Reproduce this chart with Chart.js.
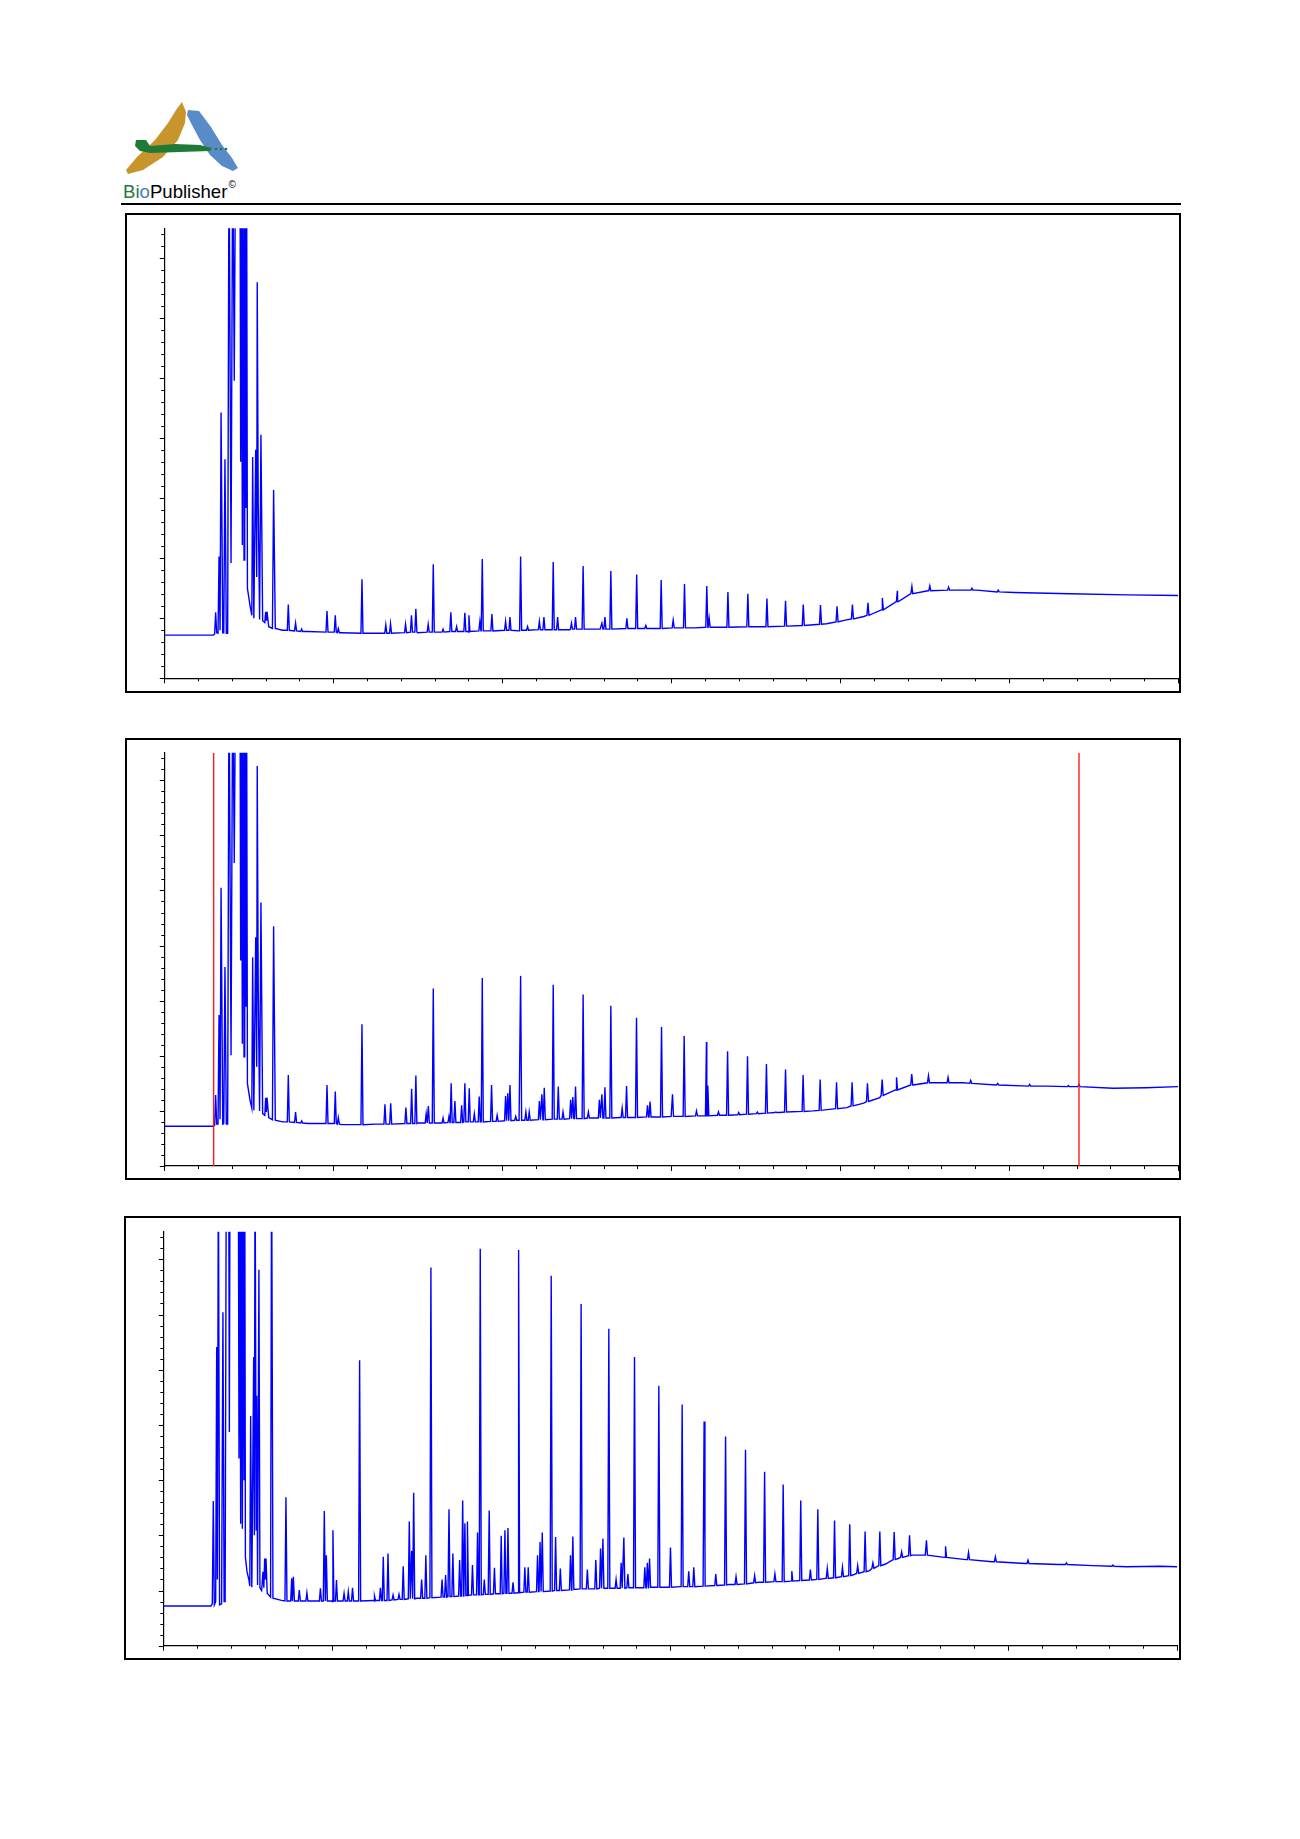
<!DOCTYPE html>
<html>
<head>
<meta charset="utf-8">
<title>Chromatograms</title>
<script src="https://cdn.jsdelivr.net/npm/chart.js@4.4.1/dist/chart.umd.min.js"></script>
<style>
    body { margin: 0; background: #fff; width: 1300px; height: 1839px; position: relative; overflow: hidden;
           font-family: "Liberation Sans", Arial, sans-serif; }
    .frame { position: absolute; border: 2px solid #000; box-sizing: border-box; }
    canvas { position: absolute; }
    #rule { position: absolute; left: 121px; top: 203px; width: 1060px; height: 2px; background: #000; }
    #brand { position: absolute; left: 123px; top: 177px; font-size: 18.6px; line-height: 22px; color: #000; white-space: nowrap; }
    #brand sup { font-size: 10px; position: relative; top: -3px; margin-left: 1px; }
</style>
</head>
<body>

<svg width="130" height="90" style="position:absolute;left:110px;top:95px" viewBox="110 95 130 90">
    <polygon fill="#c8952c" points="182,102 186,112 185,123 178,140 163,157 143,170 128,174 126,170 137,157 155,140 168,123 176,110"/>
    <polygon fill="#5a8bc9" points="188,110 199,111 211,127 222,145 232,158 238,168 233,171 222,166 210,155 200,140 192,125 187,115"/>
    <polygon fill="#1f7a36" points="136,140 146,140 150,146 175,144 200,145 212,148 210,151 180,152 150,153 140,151 135,146"/>
    <circle cx="216" cy="149" r="1.3" fill="#1f7a36"/>
    <circle cx="221" cy="149" r="1.3" fill="#1f7a36"/>
    <circle cx="226" cy="149" r="1.3" fill="#1f7a36"/>
</svg>
<div id="brand"><span style="color:#1f7a36">Bi</span><span style="color:#3f7fc4">o</span>Publisher<sup>©</sup></div>
<div id="rule"></div>

<div class="frame" style="left:125px;top:213px;width:1056px;height:480px"></div>
<div class="frame" style="left:125px;top:738px;width:1056px;height:442px"></div>
<div class="frame" style="left:124px;top:1216px;width:1057px;height:444px"></div>
<canvas id="chart1" width="1052" height="476" style="left:127px;top:215px"></canvas>
<canvas id="chart2" width="1052" height="438" style="left:127px;top:740px"></canvas>
<canvas id="chart3" width="1053" height="440" style="left:126px;top:1218px"></canvas>

<script>
// Retention time axis (min) and response axis
const X_MIN = 0, X_MAX = 60, X_MINOR = 2, X_MAJOR = 10;
const Y_MIN = 0, Y_MAX = 7.5, Y_MINOR = 0.2, Y_MAJOR = 1;

// ---- sample 1 ----
// baseline + the crowded solvent region, [time, response]; 9 = off scale
const trace1 = [
    [0, 0.72], [2.9, 0.72], [2.98, 0.74], [3.04, 1.10], [3.1, 0.76], [3.18, 0.75], [3.24, 2.03], [3.3, 0.8],
    [3.36, 4.43], [3.46, 0.76], [3.52, 0.76], [3.59, 3.65], [3.67, 0.75], [3.75, 0.75], [3.83, 9], [3.95, 1.92],
    [4.05, 9], [4.14, 4.96], [4.22, 9], [4.48, 9], [4.52, 3.61], [4.56, 9], [4.62, 2.22], [4.66, 9], [4.72, 1.97],
    [4.76, 9], [4.83, 2.84], [4.87, 9], [4.92, 1.5], [5.07, 1.22], [5.18, 1.05], [5.23, 3.69], [5.3, 1.0],
    [5.41, 3.81], [5.47, 1.69], [5.5, 6.6], [5.56, 2.89], [5.64, 0.98], [5.72, 4.06], [5.82, 0.96], [5.95, 0.93],
    [6.0, 1.11], [6.04, 0.96], [6.08, 1.11], [6.18, 0.86], [6.4, 0.83], [6.47, 3.14], [6.57, 0.83], [7.0, 0.8],
    [8.5, 0.78], [10.5, 0.76], [12.5, 0.75], [15, 0.76], [18, 0.77], [21, 0.79], [24, 0.81], [25.8, 0.82],
    [31.4, 0.84], [36.9, 0.87], [39.2, 0.91], [40.3, 0.97], [41.4, 1.03], [42.5, 1.14], [43.4, 1.28],
    [44.3, 1.41], [45.2, 1.46], [46.5, 1.47], [48.1, 1.47], [50.3, 1.43], [53.6, 1.41], [57, 1.39], [60, 1.38]
];
// single peaks, [time, apex, foot]
const peaks1 = [
    [7.34, 1.23, 0.80], [7.77, 0.92, 0.79], [8.13, 0.82, 0.78], [9.63, 1.12, 0.77], [10.12, 1.05, 0.77],
    [10.3, 0.83, 0.76], [11.70, 1.65, 0.75], [13.11, 0.89, 0.75], [13.39, 0.91, 0.75], [14.28, 0.90, 0.76],
    [14.63, 1.05, 0.77], [14.89, 1.16, 0.77], [15.62, 0.90, 0.77], [15.92, 1.90, 0.77], [16.5, 0.82, 0.77],
    [16.96, 1.10, 0.78], [17.3, 0.86, 0.78], [17.79, 1.09, 0.78], [18.03, 1.05, 0.78], [18.68, 0.95, 0.79],
    [18.82, 1.99, 0.79], [19.39, 1.07, 0.79], [20.2, 0.95, 0.80], [20.46, 1.02, 0.80], [21.09, 2.03, 0.80],
    [21.5, 0.86, 0.80], [22.2, 0.95, 0.81], [22.47, 1.02, 0.81], [23.02, 1.94, 0.81], [23.28, 1.02, 0.81],
    [24.1, 0.92, 0.82], [24.34, 1.02, 0.82], [24.79, 1.87, 0.82], [25.9, 0.92, 0.82], [26.08, 1.02, 0.82],
    [26.43, 1.79, 0.82], [27.38, 1.0, 0.83], [27.96, 1.73, 0.83], [28.5, 0.88, 0.83], [29.41, 1.64, 0.83],
    [30.12, 0.97, 0.84], [30.79, 1.57, 0.84], [32.11, 1.54, 0.85], [32.25, 1.0, 0.85], [33.36, 1.44, 0.85],
    [34.54, 1.41, 0.86], [35.67, 1.33, 0.86], [36.77, 1.29, 0.87], [37.82, 1.23, 0.88], [38.84, 1.22, 0.90],
    [39.82, 1.20, 0.94], [40.73, 1.23, 0.99], [41.65, 1.26, 1.05], [42.5, 1.34, 1.14], [43.39, 1.46, 1.28],
    [44.25, 1.53, 1.41], [45.31, 1.54, 1.46], [46.42, 1.52, 1.47], [47.8, 1.50, 1.47], [49.36, 1.47, 1.44]
];

// ---- sample 2 ----
const trace2 = [
    [0, 0.72], [2.9, 0.72], [2.98, 0.74], [3.04, 1.29], [3.1, 0.76], [3.18, 0.76], [3.24, 2.74], [3.3, 0.85],
    [3.36, 5.05], [3.46, 0.76], [3.52, 0.77], [3.59, 3.61], [3.67, 0.76], [3.75, 0.76], [3.83, 9], [3.95, 2.01],
    [4.05, 9], [4.14, 5.50], [4.22, 9], [4.48, 9], [4.52, 3.73], [4.56, 9], [4.62, 2.22], [4.66, 9], [4.72, 1.98],
    [4.76, 9], [4.83, 2.89], [4.87, 9], [4.92, 1.5], [5.07, 1.2], [5.18, 1.05], [5.23, 3.79], [5.3, 1.01],
    [5.41, 4.15], [5.47, 1.80], [5.5, 7.26], [5.56, 3.19], [5.64, 1.0], [5.72, 4.78], [5.82, 0.95], [5.95, 0.92],
    [6.0, 1.24], [6.04, 0.98], [6.08, 1.24], [6.18, 0.88], [6.4, 0.84], [6.47, 4.35], [6.57, 0.83], [7.0, 0.8],
    [8.5, 0.77], [10.5, 0.75], [12.5, 0.76], [15, 0.78], [18, 0.80], [21, 0.83], [24, 0.86], [27, 0.88],
    [30, 0.90], [33, 0.92], [36.4, 0.97], [38.4, 1.0], [40.4, 1.06], [41.4, 1.14], [42.35, 1.24], [43.34, 1.38],
    [44.32, 1.47], [45.3, 1.51], [47.3, 1.51], [49.25, 1.47], [52.2, 1.45], [54.2, 1.44], [56.15, 1.41],
    [58.1, 1.42], [60, 1.44]
];
const peaks2 = [
    [7.34, 1.65, 0.80], [7.77, 0.98, 0.79], [8.13, 0.82, 0.78], [9.63, 1.47, 0.77], [10.12, 1.35, 0.77],
    [10.3, 0.88, 0.76], [11.70, 2.57, 0.75], [13.06, 1.12, 0.76], [13.40, 1.14, 0.76], [14.30, 1.06, 0.77],
    [14.64, 1.40, 0.77], [14.89, 1.64, 0.77], [15.5, 0.95, 0.78], [15.63, 1.09, 0.78], [15.92, 3.22, 0.78],
    [16.5, 0.87, 0.78], [16.85, 0.9, 0.79], [16.98, 1.50, 0.79], [17.20, 1.18, 0.79], [17.6, 1.10, 0.79],
    [17.79, 1.50, 0.80], [18.05, 1.41, 0.80], [18.35, 0.95, 0.80], [18.64, 1.26, 0.80], [18.82, 3.41, 0.80],
    [19.37, 1.47, 0.81], [19.7, 0.92, 0.81], [20.2, 1.27, 0.82], [20.33, 1.32, 0.82], [20.46, 1.47, 0.82],
    [20.8, 0.9, 0.83], [21.09, 3.45, 0.83], [21.4, 0.98, 0.83], [21.6, 0.98, 0.83], [22.2, 1.18, 0.84],
    [22.35, 1.30, 0.84], [22.49, 1.42, 0.84], [23.02, 3.29, 0.85], [23.32, 1.44, 0.85], [23.6, 0.98, 0.85],
    [24.05, 1.2, 0.86], [24.18, 1.25, 0.86], [24.34, 1.44, 0.86], [24.79, 3.11, 0.86], [25.1, 0.98, 0.87],
    [25.75, 1.2, 0.87], [25.9, 1.3, 0.87], [26.08, 1.43, 0.87], [26.43, 2.91, 0.87], [27.1, 1.05, 0.88],
    [27.36, 1.45, 0.88], [27.95, 2.69, 0.88], [28.6, 1.1, 0.89], [28.75, 1.17, 0.89], [29.43, 2.52, 0.89],
    [30.08, 1.30, 0.90], [30.77, 2.36, 0.90], [31.5, 1.0, 0.91], [32.09, 2.25, 0.91], [32.17, 1.46, 0.91],
    [32.8, 0.98, 0.92], [33.34, 2.08, 0.92], [34.0, 0.97, 0.93], [34.52, 1.99, 0.94], [35.1, 0.98, 0.95],
    [35.64, 1.85, 0.96], [36.2, 0.98, 0.97], [36.77, 1.75, 0.98], [37.81, 1.65, 0.99], [38.82, 1.57, 1.01],
    [39.79, 1.52, 1.04], [40.71, 1.52, 1.09], [41.62, 1.50, 1.17], [42.49, 1.57, 1.28], [43.34, 1.61, 1.38],
    [44.24, 1.67, 1.47], [45.23, 1.64, 1.51], [46.39, 1.61, 1.51], [47.73, 1.55, 1.50], [49.33, 1.50, 1.47],
    [51.22, 1.48, 1.45], [53.51, 1.46, 1.44], [54.14, 1.48, 1.44]
];
// integration window markers on sample 2
const markers2 = [2.92, 54.14];

// ---- sample 3 ----
const trace3 = [
    [0, 0.72], [2.82, 0.72], [2.9, 0.76], [2.96, 2.62], [3.02, 0.74], [3.1, 0.8], [3.16, 5.41], [3.2, 1.2],
    [3.26, 9], [3.33, 0.74], [3.45, 0.76], [3.53, 6.04], [3.6, 0.8], [3.66, 0.8], [3.73, 9], [3.87, 9],
    [3.91, 3.87], [3.95, 9], [4.44, 9], [4.48, 3.39], [4.53, 9], [4.58, 2.21], [4.63, 9], [4.68, 2.12],
    [4.73, 9], [4.78, 3.01], [4.82, 9], [4.86, 1.6], [4.95, 1.35], [5.07, 1.19], [5.12, 1.08], [5.17, 4.16],
    [5.24, 1.06], [5.35, 5.23], [5.39, 2.0], [5.43, 9], [5.5, 2.1], [5.53, 4.53], [5.58, 1.1], [5.66, 6.81],
    [5.72, 1.05], [5.82, 1.0], [5.9, 1.34], [5.95, 1.05], [6.0, 1.58], [6.04, 1.2], [6.08, 1.58], [6.15, 0.95],
    [6.35, 0.88], [6.41, 9], [6.49, 0.86], [7.0, 0.82],
    [10, 0.80], [12.5, 0.81], [15, 0.86], [18, 0.91], [21, 0.96], [24.7, 1.03], [27.6, 1.05], [30.6, 1.07],
    [33.5, 1.11], [35.25, 1.15], [37.2, 1.18], [39.2, 1.22], [40.8, 1.28], [41.8, 1.36], [42.75, 1.48],
    [43.5, 1.58], [44.3, 1.64], [45.1, 1.64], [46.3, 1.60], [47.5, 1.56], [49.05, 1.52], [51, 1.49],
    [53, 1.47], [55, 1.45], [57, 1.43], [59, 1.44], [60, 1.43]
];
const peaks3 = [
    [7.26, 2.69, 0.81], [7.6, 1.22, 0.81], [7.7, 1.25, 0.81], [8.05, 1.01, 0.81], [8.5, 0.96, 0.81],
    [9.3, 1.04, 0.81], [9.53, 2.44, 0.81], [9.65, 1.64, 0.81], [10.04, 2.09, 0.81], [10.25, 1.19, 0.81],
    [10.7, 0.95, 0.81], [10.95, 0.98, 0.81], [11.2, 1.05, 0.81], [11.62, 5.17, 0.81], [12.5, 0.9, 0.82],
    [12.85, 1.05, 0.82], [13.02, 1.61, 0.82], [13.30, 1.67, 0.82], [13.6, 0.92, 0.83], [13.95, 0.93, 0.84],
    [14.2, 1.44, 0.84], [14.56, 2.25, 0.85], [14.70, 1.72, 0.85], [14.82, 2.77, 0.85], [15.29, 1.20, 0.86],
    [15.54, 1.64, 0.86], [15.84, 6.85, 0.87], [16.5, 1.2, 0.88], [16.71, 1.28, 0.88], [16.91, 2.47, 0.89],
    [17.14, 1.67, 0.89], [17.54, 1.55, 0.90], [17.72, 2.63, 0.90], [17.85, 2.22, 0.91], [18.0, 2.25, 0.91],
    [18.3, 1.46, 0.92], [18.6, 2.05, 0.92], [18.76, 7.19, 0.92], [19.0, 1.2, 0.93], [19.29, 2.45, 0.93],
    [19.6, 1.41, 0.94], [20.0, 1.99, 0.94], [20.22, 2.09, 0.95], [20.40, 2.13, 0.95], [20.7, 1.15, 0.95],
    [21.03, 7.17, 0.96], [21.4, 1.42, 0.97], [21.6, 1.42, 0.97], [22.15, 1.64, 0.98], [22.3, 1.88, 0.98],
    [22.43, 2.05, 0.98], [22.96, 6.70, 0.99], [23.22, 1.97, 1.0], [23.5, 1.4, 1.0], [24.1, 1.64, 1.01],
    [24.24, 1.98, 1.02], [24.73, 6.19, 1.03], [25.1, 1.38, 1.03], [25.6, 1.55, 1.03], [25.88, 1.76, 1.04],
    [26.02, 1.94, 1.04], [26.37, 5.74, 1.04], [26.8, 1.2, 1.04], [27.1, 1.5, 1.04], [27.26, 1.96, 1.04],
    [27.5, 1.3, 1.05], [27.89, 5.23, 1.05], [28.5, 1.42, 1.05], [28.65, 1.5, 1.05], [28.78, 1.58, 1.06],
    [29.33, 4.71, 1.06], [30.02, 1.78, 1.06], [30.71, 4.37, 1.07], [31.1, 1.35, 1.07], [31.4, 1.42, 1.07],
    [32.01, 4.06, 1.08], [32.06, 1.86, 1.08], [32.7, 1.3, 1.09], [33.28, 3.79, 1.10], [33.9, 1.25, 1.11],
    [34.46, 3.55, 1.12], [35.0, 1.27, 1.14], [35.59, 3.15, 1.15], [36.2, 1.3, 1.16], [36.69, 2.92, 1.16],
    [37.2, 1.35, 1.17], [37.73, 2.63, 1.18], [38.3, 1.38, 1.19], [38.74, 2.47, 1.20], [39.3, 1.4, 1.22],
    [39.73, 2.27, 1.23], [40.2, 1.42, 1.25], [40.63, 2.20, 1.27], [41.1, 1.45, 1.31], [41.54, 2.07, 1.34],
    [42.0, 1.5, 1.40], [42.41, 2.07, 1.45], [43.26, 2.06, 1.56], [43.7, 1.7, 1.60], [44.17, 2.0, 1.63],
    [45.17, 1.91, 1.64], [46.30, 1.80, 1.60], [47.66, 1.69, 1.56], [49.25, 1.61, 1.52], [51.18, 1.55, 1.49],
    [53.46, 1.50, 1.47], [56.21, 1.46, 1.44]
];

const TRACE_COLOR = '#0000ff';
const MARK_COLOR = '#ff1a1a';
const SPIKE_HALF = 0.06;

// chart area of each panel on the page: left, top, right, bottom
const panels = [
    { id: 'chart1', area: [164.3, 228.3, 1178, 678.3], trace: trace1, peaks: peaks1, markers: [] },
    { id: 'chart2', area: [164.3, 752.7, 1178, 1166], trace: trace2, peaks: peaks2, markers: markers2 },
    { id: 'chart3', area: [163.3, 1231.7, 1177, 1645.7], trace: trace3, peaks: peaks3, markers: [] }
];

// merge baseline vertices and peaks into one ordered trace
function buildTrace(trace, peaks) {
    const pts = trace.map(p => ({ x: p[0], y: p[1] }));
    peaks.forEach(p => {
        pts.push({ x: p[0] - SPIKE_HALF, y: p[2] });
        pts.push({ x: p[0], y: p[1] });
        pts.push({ x: p[0] + SPIKE_HALF, y: p[2] });
    });
    pts.sort((a, b) => a.x - b.x);
    return pts;
}

// minor / major tick marks drawn outside the axes
const axisTicks = {
    id: 'axisTicks',
    afterDraw(chart) {
        const { ctx, scales: { x, y } } = chart;
        ctx.save();
        ctx.strokeStyle = '#000';
        ctx.lineWidth = 1;
        ctx.beginPath();
        for (let v = X_MIN; v <= X_MAX + 1e-6; v += X_MINOR) {
            const px = Math.round(x.getPixelForValue(v)) + 0.5;
            const len = Math.abs(v / X_MAJOR - Math.round(v / X_MAJOR)) < 1e-6 ? 5 : 3;
            ctx.moveTo(px, y.bottom);
            ctx.lineTo(px, y.bottom + len);
        }
        for (let i = 0; i * Y_MINOR < Y_MAX - 1e-6; i++) {
            const v = i * Y_MINOR;
            const py = Math.round(y.getPixelForValue(v)) + 0.5;
            const len = Math.abs(v / Y_MAJOR - Math.round(v / Y_MAJOR)) < 1e-6 ? 4.5 : 3;
            ctx.moveTo(x.left - len, py);
            ctx.lineTo(x.left, py);
        }
        ctx.stroke();
        ctx.restore();
    }
};

panels.forEach(panel => {
    const canvas = document.getElementById(panel.id);
    const cx = parseFloat(canvas.style.left), cy = parseFloat(canvas.style.top);
    const [L, T, R, B] = panel.area;

    const datasets = panel.markers.map(t => ({
        data: [{ x: t, y: Y_MIN }, { x: t, y: Y_MAX }],
        borderColor: MARK_COLOR,
        borderWidth: 1.4
    }));
    datasets.push({
        data: buildTrace(panel.trace, panel.peaks),
        borderColor: TRACE_COLOR,
        borderWidth: 1.4
    });

    new Chart(canvas.getContext('2d'), {
        type: 'line',
        data: { datasets: datasets },
        options: {
            responsive: false,
            animation: false,
            events: [],
            elements: { point: { radius: 0 }, line: { tension: 0, fill: false } },
            layout: {
                padding: { left: L - cx, top: T - cy, right: cx + canvas.width - R, bottom: cy + canvas.height - B }
            },
            scales: {
                x: {
                    type: 'linear', min: X_MIN, max: X_MAX,
                    ticks: { display: false },
                    grid: { display: false, drawTicks: false },
                    border: { display: true, color: '#000', width: 1.2 }
                },
                y: {
                    type: 'linear', min: Y_MIN, max: Y_MAX,
                    ticks: { display: false },
                    grid: { display: false, drawTicks: false },
                    border: { display: true, color: '#000', width: 1.2 }
                }
            },
            plugins: { legend: { display: false }, tooltip: { enabled: false } }
        },
        plugins: [axisTicks]
    });
});
</script>
</body>
</html>
